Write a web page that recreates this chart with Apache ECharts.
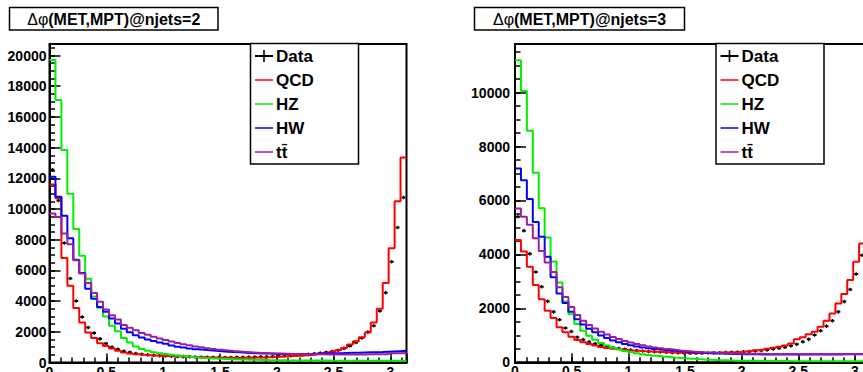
<!DOCTYPE html>
<html><head><meta charset="utf-8">
<script src="https://cdn.jsdelivr.net/npm/echarts@6/dist/echarts.min.js"></script>
<style>html,body{margin:0;padding:0;background:#fff}#c{width:863px;height:372px}</style>
</head><body><div id="c"></div>
<script>
// ---- data ----
const NBINS = 60;
const X_MAX = Math.PI;
const titlePrefix = 'Δφ';
const titleBodies = ['(MET,MPT)@njets=2', '(MET,MPT)@njets=3'];
const legendNames = ['Data', 'QCD', 'HZ', 'HW', 'tt̄'];
const yMax = [20750, 11800];
const yMajor = 2000, yMinor = 500, xMajor = 0.5, xMinor = 0.1;

const dataL = [12560,10560,7790,5470,4010,2970,2280,1930,1540,1240,
 1000,860,740,660,590,540,500,470,450,430,
 410,395,380,370,360,350,340,335,330,330,
 330,335,340,350,360,370,380,395,410,430,
 450,470,500,530,570,610,660,720,800,920,
 1080,1300,1600,1980,2400,3360,4550,6560,8800,10750];
const qcdL = [11600,10700,6800,5000,3550,2600,1950,1600,1260,1070,
 910,770,650,590,530,500,480,460,445,430,
 420,405,390,375,360,345,330,320,310,305,
 300,300,305,310,320,330,345,360,380,400,
 420,440,460,490,520,570,630,700,800,950,
 1170,1390,1650,1960,2600,3500,5180,7450,10500,13360];
const hzL = [19700,17100,13850,11000,8700,6960,5450,4300,3560,3000,
 2400,2040,1600,1300,1050,880,760,670,610,560,
 500,450,400,360,330,300,280,260,240,225,
 210,200,190,180,172,165,158,152,147,142,
 138,135,132,130,128,126,124,122,120,118,
 117,116,115,114,113,112,112,111,110,110];
const hwL = [12100,10800,9560,8100,6700,5830,4800,4160,3620,3300,
 2860,2540,2200,1970,1780,1630,1500,1400,1300,1220,
 1100,1030,970,920,870,830,790,760,730,700,
 680,660,640,620,605,590,580,570,560,555,
 550,550,555,560,570,580,590,600,610,620,
 630,640,650,660,670,680,700,720,740,760];
const ttL = [9700,9480,8400,7700,6660,5800,5180,4530,3950,3450,
 3080,2800,2450,2260,2100,1930,1800,1680,1570,1460,
 1360,1270,1190,1120,1050,990,930,880,830,790,
 750,720,690,660,640,620,600,590,580,570,
 560,550,545,540,535,530,525,520,520,520,
 520,520,525,530,535,540,545,600,610,620];

const dataR = [5400,4880,4020,3350,2800,2260,1870,1580,1270,1140,
 930,840,760,690,630,580,540,510,480,460,
 440,420,400,390,380,370,360,350,345,340,
 340,340,345,350,355,360,370,380,390,400,
 420,440,460,490,520,560,610,670,760,850,
 1010,1170,1340,1540,1870,2250,2700,3270,3970,4800];
const qcdR = [4530,4110,3540,2870,2340,1910,1640,1300,1110,950,
 830,740,680,620,570,530,500,480,460,440,
 425,410,400,390,380,370,360,355,350,345,
 345,345,350,355,360,365,370,380,400,420,
 450,470,500,540,580,620,700,850,930,1040,
 1130,1320,1540,1810,2180,2530,3050,3730,4400,5200];
const hzR = [11200,10060,8580,7030,5710,4630,3740,2960,2250,1780,
 1420,1170,980,840,720,620,540,470,420,380,
 340,300,270,240,215,195,175,160,145,130,
 118,107,97,88,80,73,67,62,58,55,
 52,50,48,46,45,44,43,42,41,40,
 40,39,39,38,38,37,37,37,36,36];
const hwR = [7180,6750,6050,5200,4650,3910,3150,2550,2200,1870,
 1600,1400,1240,1110,990,900,810,740,680,630,
 590,550,520,490,465,445,425,405,390,375,
 360,350,340,330,322,315,310,305,300,297,
 295,293,292,291,290,290,290,290,290,290,
 290,290,291,292,293,294,295,296,297,298];
const ttR = [5700,5400,5100,4600,4130,3700,3350,2780,2420,2050,
 1750,1540,1380,1250,1130,1030,940,860,790,730,
 680,630,590,550,520,490,465,440,420,400,
 385,370,360,350,342,335,330,325,320,318,
 315,313,312,311,310,310,310,310,310,310,
 310,310,310,310,310,310,310,310,310,310];

// ---- styling / layout ----
const FONT = '"Liberation Sans", Arial, Helvetica, sans-serif';
const colors = {QCD:'#ff0000', HZ:'#00ee00', HW:'#0000ff', 'tt̄':'#9a1fa0'};
const grids = [
  {left: 49.5, top: 44, width: 357, height: 318.5},
  {left: 515, top: 44, width: 356, height: 318.3}
];
const legendBoxes = [{x:250.5, y:43.5, w:108, h:120.5}, {x:716, y:43.5, w:108, h:120.5}];
const titleBoxes = [{x:9.5, y:7.5, w:208.5, h:22.5}, {x:474.5, y:7.5, w:210, h:22.5}];
const yLabelMargin = [3, 5];

const binW = X_MAX / NBINS;
function histPoints(vals) {
  const pts = vals.map((v, i) => [i * binW, v]);
  pts.push([NBINS * binW, vals[vals.length - 1]]);
  return pts;
}
function dataPoints(vals) { return vals.map((v, i) => [(i + 0.5) * binW, v]); }

const lineIcon = 'path://M0,0M0,9.25H18V10.75H0ZM18,20';
const crossIcon = 'path://M0,0M0,9.1H18V10.9H0ZM8.2,4H9.8V16H8.2ZM18,20';

const panels = [
  {data: dataL, QCD: qcdL, HZ: hzL, HW: hwL, tt: ttL},
  {data: dataR, QCD: qcdR, HZ: hzR, HW: hwR, tt: ttR}
];

const isMult = (v, m) => Math.abs(v / m - Math.round(v / m)) < 1e-6;
const xAxis = [], yAxis = [], series = [], legend = [], graphic = [];
panels.forEach((p, gi) => {
  xAxis.push({type:'value', gridIndex: gi, position:'bottom', min: 0, max: X_MAX, interval: xMajor,
    axisLine:{show:true, lineStyle:{color:'#000', width:2}},
    axisTick:{show:true, inside:true, length:9, lineStyle:{color:'#000', width:1.5}},
    axisLabel:{show:true, margin:2, color:'#000', fontFamily:FONT, fontWeight:'bold', fontSize:14,
      formatter: v => isMult(v, xMajor) ? String(+v.toFixed(1)) : ''},
    splitLine:{show:false}});
  xAxis.push({type:'value', gridIndex: gi, position:'bottom', min: 0, max: X_MAX, interval: xMinor,
    axisLine:{show:false}, axisLabel:{show:false}, splitLine:{show:false},
    axisTick:{show:true, inside:true, length:5, lineStyle:{color:'#000', width:1.5}}});
  yAxis.push({type:'value', gridIndex: gi, position:'left', min: 0, max: yMax[gi], interval: yMajor,
    axisLine:{show:true, lineStyle:{color:'#000', width:2}},
    axisTick:{show:true, inside:true, length:11, lineStyle:{color:'#000', width:1.5}},
    axisLabel:{show:true, margin:yLabelMargin[gi], color:'#000', fontFamily:FONT, fontWeight:'bold', fontSize:14,
      formatter: v => isMult(v, yMajor) ? String(v) : ''},
    splitLine:{show:false}});
  yAxis.push({type:'value', gridIndex: gi, position:'left', min: 0, max: yMax[gi], interval: yMinor,
    axisLine:{show:false}, axisLabel:{show:false}, splitLine:{show:false},
    axisTick:{show:true, inside:true, length:5.5, lineStyle:{color:'#000', width:1.5}}});
  const xi = gi * 2, yi = gi * 2;
  [['QCD', p.QCD], ['HZ', p.HZ], ['HW', p.HW], ['tt̄', p.tt]].forEach(([name, vals]) => {
    series.push({type:'line', name, xAxisIndex: xi, yAxisIndex: yi, step:'end', data: histPoints(vals),
      showSymbol:false, symbol:'none', clip:true, animation:false,
      lineStyle:{color: colors[name], width:2}, itemStyle:{color: colors[name]}});
  });
  series.push({type:'custom', name:'Data', xAxisIndex: xi, yAxisIndex: yi, data: dataPoints(p.data),
    clip:true, animation:false, itemStyle:{color:'#000'},
    renderItem: (params, api) => {
      const c = api.coord([api.value(0), api.value(1)]);
      const w = api.size([binW, 0])[0];
      const h = w * 0.33;
      return {type:'group', children:[
        {type:'line', shape:{x1:c[0]-h, y1:c[1], x2:c[0]+h, y2:c[1]}, style:{stroke:'#000', lineWidth:2}},
        {type:'line', shape:{x1:c[0], y1:c[1]-1.8, x2:c[0], y2:c[1]+1.8}, style:{stroke:'#000', lineWidth:1.2}}
      ]};
    }});
  const lb = legendBoxes[gi];
  legend.push({orient:'vertical', left: lb.x + 4.5, top: lb.y + 2.5, padding:0, itemWidth:18, itemHeight:20, itemGap:4,
    selectedMode:false, itemStyle:{borderWidth:0},
    textStyle:{color:'#000', fontFamily:FONT, fontWeight:'bold', fontSize:17, lineHeight:20, padding:[0,0,0,-2]},
    data: legendNames.map(n => ({name:n, icon: n === 'Data' ? crossIcon : lineIcon}))});
  graphic.push({type:'rect', z: 3, shape:{x: lb.x, y: lb.y, width: lb.w, height: lb.h},
    style:{fill:'#fff', stroke:'#000', lineWidth:1.5}});
  const tb = titleBoxes[gi];
  graphic.push({type:'rect', z: 3, shape:{x: tb.x, y: tb.y, width: tb.w, height: tb.h},
    style:{fill:'#fff', stroke:'#000', lineWidth:1.5}});
  graphic.push({type:'text', z: 4, x: tb.x + tb.w / 2, y: tb.y + tb.h / 2 + 0.5,
    style:{text:'{a|' + titlePrefix + '}{b|' + titleBodies[gi] + '}', align:'center', verticalAlign:'middle',
      textAlign:'center', textVerticalAlign:'middle',
      rich:{a:{fontFamily:FONT, fontWeight:'normal', fontSize:16, fill:'#000'},
            b:{fontFamily:FONT, fontWeight:'bold', fontSize:16, fill:'#000'}}}});
});

const chart = echarts.init(document.getElementById('c'), null, {renderer:'svg'});
chart.setOption({
  animation:false,
  backgroundColor:'#fff',
  grid: grids.map(g => Object.assign({show:true, borderColor:'#000', borderWidth:2, backgroundColor:'transparent',
    containLabel:false, outerBoundsMode:'none'}, g)),
  xAxis, yAxis, series, legend, graphic
});
</script></body></html>
